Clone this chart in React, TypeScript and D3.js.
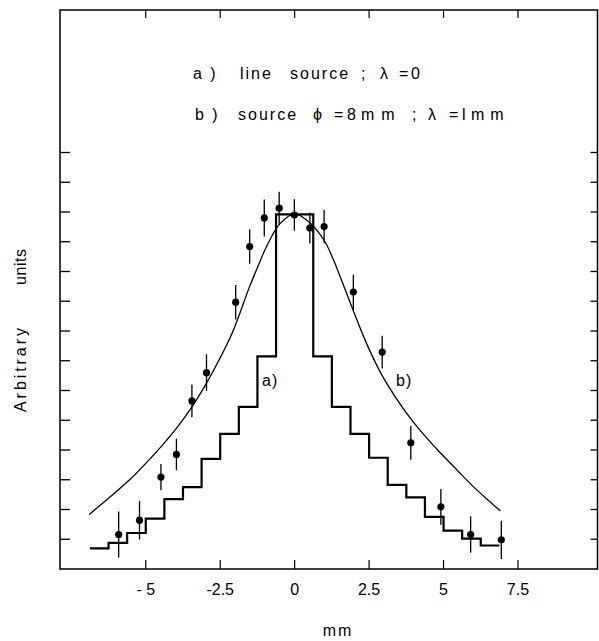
import React from 'react';
import * as d3 from 'd3';

// measured points with vertical error bars
const pointX = [-5.91, -5.21, -4.49, -3.97, -3.45, -2.96, -1.98, -1.51, -1.02, -0.52, -0.01, 0.51, 0.99, 1.97, 2.94, 3.9, 4.91, 5.91, 6.94];
const pointY = [1.16, 1.64, 3.09, 3.85, 5.65, 6.6, 8.97, 10.84, 11.8, 12.13, 11.9, 11.46, 11.51, 9.31, 7.29, 4.24, 2.09, 1.16, 0.98];
const pointErr = [0.77, 0.65, 0.44, 0.53, 0.55, 0.62, 0.58, 0.58, 0.62, 0.55, 0.53, 0.52, 0.56, 0.58, 0.55, 0.57, 0.6, 0.61, 0.64];

// a) line source histogram: bin left edges and heights
const binEdges = [-6.875, -6.25, -5.625, -5, -4.375, -3.75, -3.125, -2.5, -1.875, -1.25, -0.625, 0.625, 1.25, 1.875, 2.5, 3.125, 3.75, 4.375, 5, 5.625, 6.25, 6.875];
const binHeights = [0.69, 0.88, 1.21, 1.69, 2.35, 2.75, 3.7, 4.54, 5.45, 7.15, 11.92, 7.15, 5.45, 4.54, 3.74, 2.83, 2.41, 1.75, 1.29, 1.02, 0.79];

// b) extended source curve
const curveX = [-6.9, -6.25, -5.56, -5.0, -4.41, -3.9, -3.45, -2.96, -2.5, -2.09, -1.51, -1.2, -0.94, -0.5, 0, 0.5, 0.99, 1.3, 1.5, 1.97, 2.45, 2.94, 3.45, 4.0, 4.5, 4.85, 5.45, 6.0, 6.5, 6.91];
const curveY = [1.83, 2.38, 2.98, 3.55, 4.2, 4.82, 5.45, 6.25, 7.1, 7.95, 9.5, 10.25, 10.85, 11.6, 11.94, 11.65, 11.05, 10.4, 9.9, 8.68, 7.5, 6.5, 5.68, 4.92, 4.33, 3.95, 3.33, 2.77, 2.31, 1.95];

const xTicks = [-5, -2.5, 0, 2.5, 5, 7.5];
const xTickLabels = ['- 5', '-2.5', '0', '2.5', '5', '7.5'];
const yTicks = [1, 2, 3, 4, 5, 6, 7, 8, 9, 10, 11, 12, 13, 14];

// legend words and where they start
const legendA = ['a )', 'line', 'source', ';', 'λ', '=', '0'];
const legendAX = [193, 240, 290, 361, 380, 399, 411];
const legendB = ['b )', 'source', 'ϕ', '=', '8', 'mm', ';', 'λ', '=', 'l', 'mm'];
const legendBX = [195, 238, 313, 334, 347, 361, 412, 428, 449, 462, 471];
const legendBSpacing = [2, 2, 2, 2, 2, 7, 2, 2, 2, 2, 6];

const left = 60, top = 10, right = 597.5, bottom = 569;
const font = '"Liberation Sans", Arial, sans-serif';

export default function App() {
  const x = d3.scaleLinear().domain([-7.88, 10.17]).range([left, right]);
  const y = d3.scaleLinear().domain([0, 18.79]).range([bottom, top]);

  const histPts: [number, number][] = binHeights.map((h, i) => [binEdges[i], h]);
  histPts.push([binEdges[binEdges.length - 1], binHeights[binHeights.length - 1]]);
  const histLine = d3.line<[number, number]>()
    .x(d => x(d[0]))
    .y(d => y(d[1]))
    .curve(d3.curveStepAfter);

  const smooth = d3.line<number>()
    .x(d => x(d))
    .y((d, i) => y(curveY[i]))
    .curve(d3.curveCatmullRom.alpha(0.5));

  return (
    <svg width={599} height={641} style={{ display: 'block', position: 'absolute', left: 0, top: 0, background: '#fff' }}>
      <rect x={left} y={top} width={right - left} height={bottom - top} fill="none" stroke="#000" strokeWidth={1.5} />
      {xTicks.map((t, i) => (
        <g key={'xt' + i}>
          <line x1={x(t)} x2={x(t)} y1={bottom} y2={bottom - 9} stroke="#000" strokeWidth={1.2} />
          <line x1={x(t)} x2={x(t)} y1={top} y2={top + 8} stroke="#000" strokeWidth={1.2} />
          <text x={x(t)} y={595} textAnchor="middle" fontFamily={font} fontSize={16}>{xTickLabels[i]}</text>
        </g>
      ))}
      {yTicks.map(t => (
        <g key={'yt' + t}>
          <line x1={left} x2={left + 10} y1={y(t)} y2={y(t)} stroke="#000" strokeWidth={1.3} />
          <line x1={right} x2={right - 7} y1={y(t)} y2={y(t)} stroke="#000" strokeWidth={1.3} />
        </g>
      ))}

      <path d={histLine(histPts) || ''} fill="none" stroke="#000" strokeWidth={2.2} />
      <path d={smooth(curveX) || ''} fill="none" stroke="#000" strokeWidth={1.3} />

      {pointX.map((px, i) => (
        <g key={'p' + i}>
          <line x1={x(px)} x2={x(px)} y1={y(pointY[i] - pointErr[i])} y2={y(pointY[i] + pointErr[i])} stroke="#000" strokeWidth={1.3} />
          <circle cx={x(px)} cy={y(pointY[i])} r={3.6} fill="#000" />
        </g>
      ))}

      <text x={262} y={386} fontFamily={font} fontSize={16} letterSpacing={1}>a)</text>
      <text x={396} y={386} fontFamily={font} fontSize={16} letterSpacing={1}>b)</text>

      <text y={79} fontFamily={font} fontSize={16} letterSpacing={2}>
        {legendA.map((w, i) => <tspan key={i} x={legendAX[i]}>{w}</tspan>)}
      </text>
      <text y={120} fontFamily={font} fontSize={16}>
        {legendB.map((w, i) => <tspan key={i} x={legendBX[i]} letterSpacing={legendBSpacing[i]}>{w}</tspan>)}
      </text>

      <text x={338} y={636} textAnchor="middle" fontFamily={font} fontSize={16} letterSpacing={2}>mm</text>
      <text transform="translate(26,370) rotate(-90)" textAnchor="middle" fontFamily={font} fontSize={16} textLength={84} lengthAdjust="spacing">Arbitrary</text>
      <text transform="translate(26,267) rotate(-90)" textAnchor="middle" fontFamily={font} fontSize={16} textLength={36} lengthAdjust="spacing">units</text>
    </svg>
  );
}
